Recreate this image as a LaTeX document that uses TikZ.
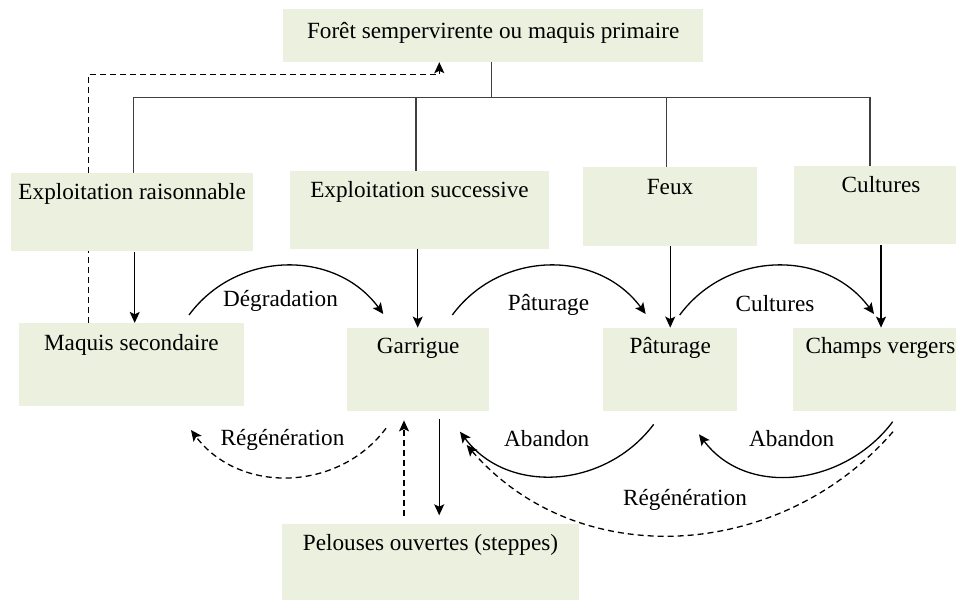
\documentclass[tikz,border=0pt]{standalone}
\usepackage{fontspec}
\setmainfont{Liberation Serif}
\usetikzlibrary{arrows.meta,backgrounds}
\definecolor{boxgreen}{HTML}{EBF1DE}
\tikzset{
  box/.style={fill=boxgreen, inner sep=0pt},
  txt/.style={anchor=base, inner sep=0pt, font=\fontsize{11.6}{14}\selectfont},
  tree/.style={draw=black!75, line width=0.6pt},
  arr/.style={line width=0.65pt, -{Stealth[length=5.5pt,width=5pt,inset=1.2pt]}},
  dsh/.style={arr, dash pattern=on 3pt off 2pt},
}
\begin{document}
\begin{tikzpicture}[x=0.5pt,y=-0.5pt]
\useasboundingbox (0,0) rectangle (956,599);
\clip (0,0) rectangle (956,599);
% boxes
\node[box, minimum width=210.2pt, minimum height=26.4pt,
  label={[txt,yshift=-15pt]north:Forêt sempervirente ou maquis primaire}] (foret) at (493.2,35.4) {};
\node[box, minimum width=121.2pt, minimum height=39.2pt,
  label={[txt,yshift=-13.25pt]north:Exploitation raisonnable}] (expr) at (132.2,212.2) {};
\node[box, minimum width=129.5pt, minimum height=39pt,
  label={[txt,yshift=-13.4pt]north:Exploitation successive}] (exps) at (419.5,210) {};
\node[box, minimum width=87pt, minimum height=39.4pt,
  label={[txt,yshift=-14pt]north:Feux}] (feux) at (670,206.4) {};
\node[box, minimum width=87.3pt, minimum height=39.2pt,
  label={[txt,yshift=-13.4pt]north:Cultures}] (cult) at (881,205.2) {};
\node[box, minimum width=112.4pt, minimum height=41.4pt,
  label={[txt,yshift=-13.8pt]north:Maquis secondaire}] (masec) at (131.4,364.7) {};
\node[box, minimum width=70.9pt, minimum height=41.4pt,
  label={[txt,yshift=-13pt]north:Garrigue}] (garr) at (418.2,369.4) {};
\node[box, minimum width=67.2pt, minimum height=41.4pt,
  label={[txt,yshift=-13pt]north:Pâturage}] (patu) at (670.2,369.4) {};
\node[box, minimum width=87.7pt, minimum height=41.4pt,
  label={[txt,yshift=-13pt]north:Champs vergers}] (chve) at (880.4,369.4) {};
\node[box, minimum width=148.2pt, minimum height=40.2pt,
  label={[txt,yshift=-13.7pt]north:Pelouses ouvertes (steppes)}] (pelo) at (430.5,563.9) {};

% tree from the top box
\coordinate (bus) at (0,97.3);
\draw[tree] ([xshift=-1pt]foret.south) -- ([xshift=-1pt]foret.south |- bus);
\draw[tree] ([xshift=0.75pt]expr.north) |- ([xshift=-5.5pt]cult.north |- bus) -- ([xshift=-5.5pt]cult.north);
\foreach \n/\dx in {exps/-1.75, feux/-1.85}
  \draw[tree] ([xshift=\dx pt]\n.north) -- ([xshift=\dx pt]\n.north |- bus);

% return to the primary forest
\coordinate (back) at (439.3,74.3);
\begin{scope}[on background layer]
\draw[dsh] ([xshift=-21.35pt]masec.north) |- (back) -- (back |- foret.south);
\end{scope}

% straight arrows
\draw[arr] ([xshift=1.25pt]expr.south) -- ([xshift=1.25pt]expr.south |- masec.north);
\draw[arr] ([xshift=-0.25pt]garr.north |- exps.south) -- ([xshift=-0.25pt]garr.north);
\draw[arr] (patu.north |- feux.south) -- (patu.north);
\draw[arr] (cult.south) -- (cult.south |- chve.north);
\draw[arr, shorten <=3.8pt, shorten >=4pt] ([xshift=10.5pt]garr.south) -- ([xshift=10.5pt]garr.south |- pelo.north);
\draw[dsh, shorten <=3.5pt, shorten >=4.6pt] ([xshift=-7.1pt]garr.south |- pelo.north) -- ([xshift=-7.1pt]garr.south);

% curved arrows
\coordinate (deg1) at (189,315);   \coordinate (deg2) at (383.3,314);
\coordinate (pat1) at (452.3,315); \coordinate (pat2) at (645.7,314);
\coordinate (cul1) at (679.7,315); \coordinate (cul2) at (874,314);
\coordinate (reg1) at (386,428.3); \coordinate (reg2) at (191,430);
\coordinate (ab1) at (653.7,424.3); \coordinate (ab2) at (460,431.7);
\coordinate (ab3) at (892.7,421.7); \coordinate (ab4) at (699,434.3);
\coordinate (reg3) at (893,431.7); \coordinate (reg4) at (466.7,445);
\foreach \a/\b in {deg1/deg2, pat1/pat2, cul1/cul2}
  \draw[arr] (\a) .. controls +(48,-65) and +(-48,-65) .. (\b);
\foreach \a/\b/\s in {ab1/ab2/arr, ab3/ab4/arr, reg1/reg2/dsh}
  \draw[\s] (\a) .. controls +(-48,64) and +(48,64) .. (\b);
\draw[dsh] (reg3) .. controls +(-112,129) and +(112,129) .. (reg4);

% arrow labels
\node[txt] (l-deg) at (280.5,306.7) {Dégradation};
\node[txt] (l-pat) at (548.5,310.7) {Pâturage};
\node[txt] (l-cul) at (775,311.7) {Cultures};
\node[txt] (l-reg) at (282.5,445.7) {Régénération};
\node[txt] (l-ab1) at (546.7,446.7) {Abandon};
\node[txt] (l-ab2) at (791.7,446.7) {Abandon};
\node[txt] (l-reg2) at (685,505) {Régénération};
\end{tikzpicture}
\end{document}
